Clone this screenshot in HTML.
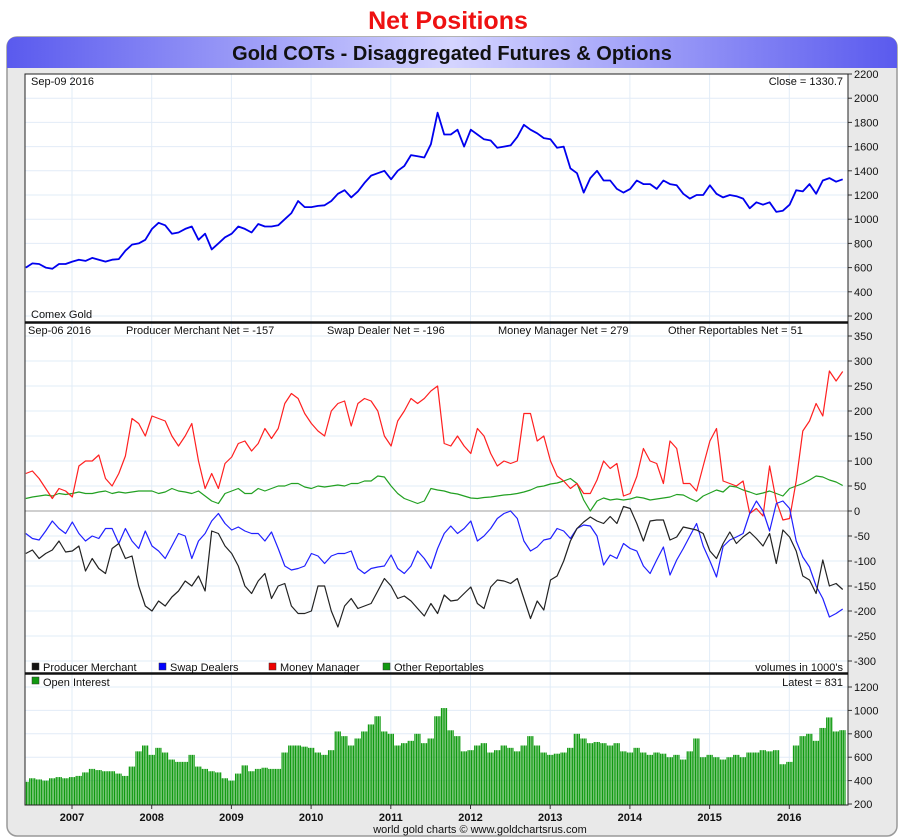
<!DOCTYPE html>
<html><head><meta charset="utf-8"><style>
html,body{margin:0;padding:0;background:#fff;}
svg{display:block;font-family:"Liberation Sans",sans-serif;}
</style></head><body>
<svg id="c" width="906" height="840" viewBox="0 0 906 840" xmlns="http://www.w3.org/2000/svg">
<defs>
<linearGradient id="tb" x1="0" x2="1" y1="0" y2="0">
<stop offset="0" stop-color="#5a5aee"/><stop offset="0.5" stop-color="#d4d4ff"/><stop offset="1" stop-color="#5a5aee"/>
</linearGradient>
</defs>
<text x="448" y="29" text-anchor="middle" font-size="25" font-weight="bold" fill="#ee1111">Net Positions</text>
<rect x="7" y="37" width="890" height="799" rx="10" fill="#e9e9e9" stroke="#999" stroke-width="1.5"/>
<path d="M7,68 L7,47 Q7,37 17,37 L887,37 Q897,37 897,47 L897,68 Z" fill="url(#tb)"/>
<text x="452" y="60" text-anchor="middle" font-size="20" font-weight="bold" fill="#111">Gold COTs - Disaggregated Futures &amp; Options</text>
<rect x="25" y="74" width="823" height="731" fill="#fff"/>
<g id="grid"></g>
<g id="marks"></g>
<g id="frame"></g>
<g id="labels"></g>
</svg>
<script>
const months0 = 2006.42;
const yearLabels = ["2007","2008","2009","2010","2011","2012","2013","2014","2015","2016"];
const goldTicks = [200,400,600,800,1000,1200,1400,1600,1800,2000,2200];
const cotTicks = [-300,-250,-200,-150,-100,-50,0,50,100,150,200,250,300,350];
const oiTicks = [200,400,600,800,1000,1200];
const gold = [600,635,630,600,590,630,630,
650,665,655,680,665,650,665,670,740,790,800,830,
920,970,950,880,890,920,940,830,880,750,800,850,
880,940,920,890,960,940,940,950,1000,1050,1150,1100,
1100,1110,1115,1150,1210,1240,1180,1230,1300,1360,1380,1400,
1330,1400,1440,1530,1520,1510,1620,1880,1700,1700,1740,1600,
1740,1700,1660,1650,1590,1600,1610,1680,1780,1740,1710,1670,
1660,1590,1600,1420,1380,1220,1340,1400,1320,1320,1250,1220,
1250,1320,1290,1290,1250,1320,1290,1280,1210,1170,1200,1200,
1280,1210,1180,1200,1190,1170,1090,1140,1120,1140,1060,1070,
1120,1240,1230,1290,1210,1320,1340,1310,1330];
const producer = [-85,-78,-95,-85,-78,-60,-82,-80,-70,-120,-95,-115,-125,-75,-65,-95,-90,-150,-190,-200,-180,-190,-172,-160,-140,-150,-130,-160,-40,-45,-70,-85,-110,-150,-165,-140,-125,-175,-150,-145,-190,-205,-205,-200,-150,-150,-200,-232,-190,-175,-195,-190,-185,-160,-135,-150,-175,-170,-180,-195,-210,-185,-205,
-168,-180,-178,-165,-152,-185,-195,-152,-138,-140,-145,-135,-175,-215,-180,-198,-138,-130,-100,-60,-35,-22,-12,-20,-25,-11,-25,9,5,-25,-60,-20,-18,-18,-58,-52,-32,-35,-38,-45,-80,-95,-65,-42,-65,-52,-42,-55,-70,-45,-105,-38,-52,-80,-130,-138,-165,-98,-150,-145,-157];
const swap = [-45,-55,-58,-40,-20,-35,-45,-22,-45,-60,-50,-55,-35,-35,-65,-35,-60,-75,-40,-70,-80,-95,-70,-45,-50,-95,-60,-45,-20,-5,-25,-38,-32,-40,-45,-45,-60,-42,-75,-110,-118,-115,-110,-85,-90,-105,-90,-85,-85,-80,-115,-125,-115,-112,-110,-88,-115,-125,-110,-80,-95,-115,-75,
-45,-30,-45,-35,-20,-60,-50,-35,-15,-5,0,-15,-60,-80,-72,-58,-55,-35,-40,-55,-35,-28,-30,-50,-108,-88,-95,-65,-75,-80,-110,-125,-98,-72,-128,-98,-75,-50,-25,-70,-100,-132,-71,-58,-52,-45,-5,20,0,-40,15,20,5,-60,-92,-112,-150,-175,-212,-205,-196];
const money = [75,80,65,45,25,45,40,28,90,100,100,112,65,50,75,110,185,175,150,190,185,180,150,130,150,175,100,45,75,45,95,108,135,140,120,135,165,145,165,215,235,225,195,175,160,150,200,215,220,170,215,225,220,200,150,130,180,200,225,215,225,240,250,
135,130,150,130,115,165,150,115,90,100,95,100,195,195,140,150,100,70,60,45,55,35,35,62,100,85,95,30,35,69,125,100,95,55,140,125,55,55,40,90,140,165,60,55,50,60,-5,5,-10,90,20,-18,-15,60,160,180,215,190,280,260,279];
const other = [25,28,30,32,30,35,33,35,38,35,35,38,40,35,38,36,38,40,40,40,35,38,45,40,38,35,40,30,20,15,35,40,45,35,35,45,40,45,50,50,55,55,48,45,50,48,50,52,50,55,55,60,60,70,68,50,35,25,20,15,20,45,
42,40,36,34,30,26,25,27,28,30,32,33,35,38,42,48,50,54,56,60,65,55,22,0,20,26,22,24,22,24,28,26,22,24,26,28,33,32,25,19,30,36,42,38,50,48,42,38,33,36,40,35,30,45,50,55,62,70,68,62,58,51];
const openInterest = [390,420,410,400,420,430,420,
430,440,470,500,490,480,480,460,440,520,650,700,
620,680,640,580,560,560,620,520,500,480,470,420,
400,460,530,480,500,510,500,500,640,700,700,690,
680,640,620,660,820,780,700,760,820,880,950,820,
800,700,720,740,800,720,760,950,1020,830,780,650,
660,700,720,640,660,700,680,650,700,780,700,640,
620,630,640,680,800,760,720,730,720,700,720,650,
640,680,640,620,640,630,600,620,580,650,760,600,
620,600,580,600,620,600,640,640,660,650,660,540,
560,700,780,800,740,850,940,820,831];

const NS="http://www.w3.org/2000/svg";
const L=25,R=848;
function xT(t){return 72+(t-2007)*79.7;}
function xI(i){return xT(months0+i/12);}
function yGold(v){return 340.2-0.121*v;}
function yCot(v){return 511-0.5*v;}
function yOI(v){return 827.4-0.117*v;}
function mk(tag,attrs,parent,txt){const e=document.createElementNS(NS,tag);for(const k in attrs)e.setAttribute(k,attrs[k]);if(txt!==undefined)e.textContent=txt;parent.appendChild(e);return e;}
const grid=document.getElementById('grid'),marks=document.getElementById('marks'),frame=document.getElementById('frame'),labels=document.getElementById('labels');

yearLabels.forEach((y,k)=>{
  const x=xT(+y);
  const g=mk('line',{x1:x,x2:x,y1:74,y2:805,stroke:'#e2ecf7','stroke-width':1},grid);
  
  
  const tk=mk('line',{x1:x,x2:x,y1:805,y2:809,stroke:'#333'},frame);
  
  
  const t=mk('text',{x:x,y:821,'text-anchor':'middle','font-size':11,'font-weight':'bold',fill:'#111'},labels,y);
  
  
});
function hTicks(ticks,yf,top,bot,name){
  ticks.forEach(v=>{
    const y=yf(v);
    if(y>top+1&&y<bot-1){const g=mk('line',{x1:L,x2:R,y1:y,y2:y,stroke:'#e2ecf7'},grid);
      
      }
    const tk=mk('line',{x1:R,x2:R+4,y1:y,y2:y,stroke:'#333'},frame);
    
    
    const t=mk('text',{x:R+6,y:y+4,'font-size':11,fill:'#111'},labels,(v<0?'-':'')+Math.abs(v));
    
    
  });
}
hTicks(goldTicks,yGold,74,322,'gold-axis');
hTicks(cotTicks,yCot,323,673,'cot-axis');
hTicks(oiTicks,yOI,674,805,'oi-axis');

const z=mk('line',{x1:L,x2:R,y1:yCot(0),y2:yCot(0),stroke:'#cfcfcf','stroke-width':2},grid);



// open interest bars (each monthly value drawn as weekly-style thin bars)
const bw=(xI(1)-xI(0));
openInterest.forEach((v,i)=>{
  for(let k=0;k<4;k++){
    const x=xI(i)-bw/2+k*bw/4;
    if(x<L+0.5||x>R-1) continue;
    const b=mk('rect',{x:x,y:yOI(v),width:1.25,height:Math.max(0,805-yOI(v)),fill:'#109a10'},marks);
    
    
  }
});
function line(arr,yf,color,name,w){
  const d=arr.map((v,i)=>(i?'L':'M')+xI(i).toFixed(1)+','+yf(v).toFixed(1)).join(' ');
  const p=mk('path',{d:d,fill:'none',stroke:color,'stroke-width':w,'stroke-linejoin':'round'},marks);
  
  
}
line(gold,yGold,'#0000ee','gold-price-line',1.8);
line(other,yCot,'#22a022','other-reportables-line',1.2);
line(money,yCot,'#ff2020','money-manager-line',1.2);
line(swap,yCot,'#2020ff','swap-dealers-line',1.2);
line(producer,yCot,'#222','producer-merchant-line',1.2);

[[74,322],[323,673],[674,805]].forEach((p,k)=>{
  const r=mk('rect',{x:L,y:p[0],width:R-L,height:p[1]-p[0],fill:'none',stroke:'#222','stroke-width':1},frame);
  
  
});
[322.5,673.5].forEach(y=>{const s=mk('line',{x1:L,x2:R,y1:y,y2:y,stroke:'#111','stroke-width':2.5},frame);
  
  });

function txt(x,y,s,name,anchor){const t=mk('text',{x:x,y:y,'font-size':11,fill:'#111','text-anchor':anchor||'start'},labels,s);
  
  }
txt(31,85,'Sep-09  2016','gold-date-label');
txt(843,85,'Close = 1330.7','gold-close-label','end');
txt(31,318,'Comex Gold','gold-series-label');
txt(28,334,'Sep-06  2016','cot-date-label');
txt(126,334,'Producer Merchant Net = -157','producer-net-label');
txt(327,334,'Swap Dealer Net = -196','swap-net-label');
txt(498,334,'Money Manager Net = 279','money-net-label');
txt(668,334,'Other Reportables Net = 51','other-net-label');
txt(843,671,"volumes in 1000's",'volume-units-label','end');
txt(843,686,'Latest = 831','oi-latest-label','end');
txt(480,833,'world gold charts © www.goldchartsrus.com','footer-credit','middle');
const leg=[[32,'#111','Producer Merchant'],[159,'#0000ff','Swap Dealers'],[269,'#ee0000','Money Manager'],[383,'#119911','Other Reportables']];
leg.forEach(l=>{
  const s=mk('rect',{x:l[0],y:663,width:7,height:7,fill:l[1],stroke:'#333','stroke-width':0.5},labels);
  
  
  txt(l[0]+11,671,l[2],'legend-entry');
});
const s=mk('rect',{x:32,y:677,width:7,height:7,fill:'#119911',stroke:'#333','stroke-width':0.5},labels);


txt(43,686,'Open Interest','oi-legend-entry');
</script>
</body></html>
